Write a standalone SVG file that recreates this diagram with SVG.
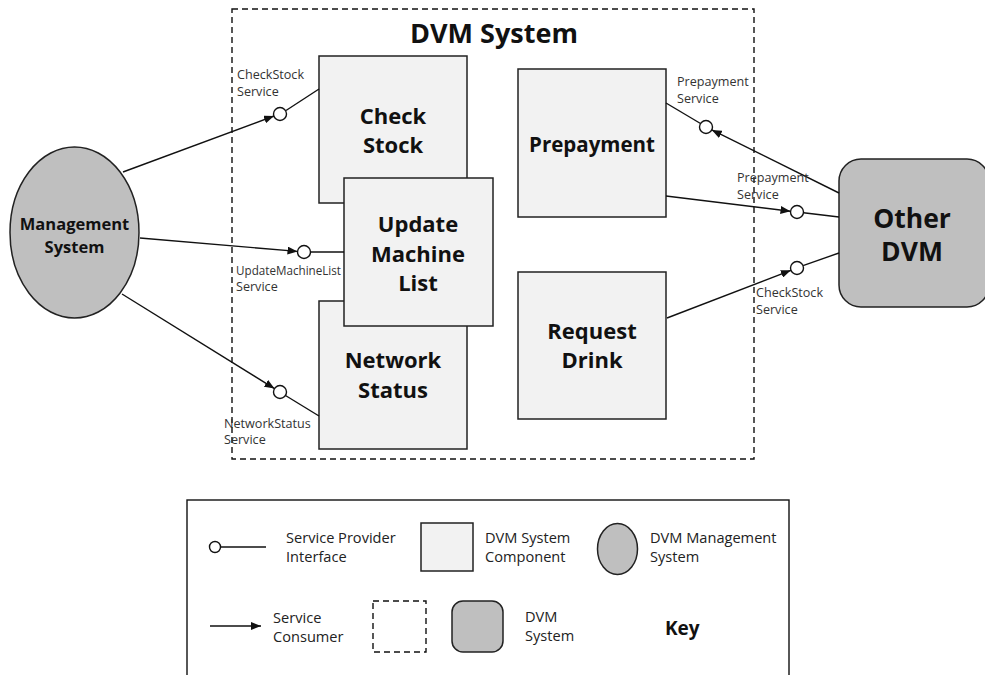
<svg xmlns="http://www.w3.org/2000/svg" width="985" height="675" viewBox="0 0 985 675">
<style>
  text { font-family: "Open Sans", "Noto Sans", "Noto Sans CJK KR", sans-serif; fill: #111; }
  .comp { fill: #f2f2f2; stroke: #222; stroke-width: 1.5; }
  .gray { fill: #bfbfbf; stroke: #222; stroke-width: 1.5; }
  .big { font-size: 22px; font-weight: bold; text-anchor: middle; }
  .lbl { font-size: 12.6px; fill: #333; }
  .key { font-size: 14.6px; fill: #222; }
  .conn { fill: none; stroke: #111; stroke-width: 1.4; }
  .iface { fill: #fff; stroke: #111; stroke-width: 1.4; }
  .dash { fill: none; stroke: #111; stroke-width: 1.4; stroke-dasharray: 6 4; }
</style>
<defs>
  <marker id="arr" markerUnits="userSpaceOnUse" markerWidth="10" markerHeight="8" refX="10" refY="4" orient="auto">
    <path d="M0,0 L10,4 L0,8 z" fill="#111"/>
  </marker>
</defs>
<rect width="985" height="675" fill="#fff"/>

<g id="dvm-system">
  <rect class="dash" x="232" y="9" width="522" height="450"/>
  <text x="494" y="43" style="font-size:27px;font-weight:bold;text-anchor:middle">DVM System</text>
</g>

<g id="check-stock">
  <rect class="comp" x="319" y="56" width="148" height="147"/>
  <text class="big" x="393" y="124">Check</text>
  <text class="big" x="393" y="153">Stock</text>
</g>
<g id="network-status">
  <rect class="comp" x="319" y="301" width="148" height="148"/>
  <text class="big" x="393" y="368">Network</text>
  <text class="big" x="393" y="398">Status</text>
</g>
<g id="update-machine-list">
  <rect class="comp" x="344" y="178" width="149" height="148"/>
  <text class="big" x="418" y="232">Update</text>
  <text class="big" x="418" y="262">Machine</text>
  <text class="big" x="418" y="291">List</text>
</g>
<g id="prepayment">
  <rect class="comp" x="518" y="69" width="148" height="148"/>
  <text class="big" x="592" y="152" style="font-size:20.5px">Prepayment</text>
</g>
<g id="request-drink">
  <rect class="comp" x="518" y="272" width="148" height="147"/>
  <text class="big" x="592" y="339">Request</text>
  <text class="big" x="592" y="368">Drink</text>
</g>

<g id="management-system">
  <ellipse class="gray" cx="74.5" cy="232.5" rx="64.5" ry="85.5"/>
  <text x="74.5" y="230" style="font-size:16.5px;font-weight:bold;text-anchor:middle">Management</text>
  <text x="74.5" y="252.5" style="font-size:16.5px;font-weight:bold;text-anchor:middle">System</text>
</g>

<g id="other-dvm">
  <rect class="gray" x="839" y="159" width="150" height="148" rx="22"/>
  <text x="912" y="228" style="font-size:26.5px;font-weight:bold;text-anchor:middle">Other</text>
  <text x="912" y="261" style="font-size:26.5px;font-weight:bold;text-anchor:middle">DVM</text>
</g>

<g id="connectors">
  <line class="conn" x1="123" y1="172" x2="274" y2="116" marker-end="url(#arr)"/>
  <line class="conn" x1="286" y1="110.5" x2="319" y2="89"/>
  <circle class="iface" cx="280" cy="114" r="6.5"/>

  <line class="conn" x1="140" y1="238" x2="297.5" y2="251.4" marker-end="url(#arr)"/>
  <line class="conn" x1="310.5" y1="252" x2="344" y2="252"/>
  <circle class="iface" cx="304" cy="252" r="6.5"/>

  <line class="conn" x1="122" y1="294" x2="274.5" y2="388.6" marker-end="url(#arr)"/>
  <line class="conn" x1="285.5" y1="395.5" x2="319" y2="416"/>
  <circle class="iface" cx="280" cy="392" r="6.5"/>

  <line class="conn" x1="839" y1="193" x2="711.8" y2="129.9" marker-end="url(#arr)"/>
  <line class="conn" x1="700.5" y1="123.5" x2="666" y2="103"/>
  <circle class="iface" cx="706" cy="127" r="6.5"/>

  <line class="conn" x1="666" y1="196" x2="790.5" y2="211.2" marker-end="url(#arr)"/>
  <line class="conn" x1="803.5" y1="212.7" x2="839" y2="217"/>
  <circle class="iface" cx="797" cy="212" r="6.5"/>

  <line class="conn" x1="667" y1="318" x2="790.9" y2="270.3" marker-end="url(#arr)"/>
  <line class="conn" x1="803" y1="265.6" x2="839" y2="253"/>
  <circle class="iface" cx="797" cy="268" r="6.5"/>

  <text class="lbl" x="237" y="79">CheckStock</text>
  <text class="lbl" x="237" y="96">Service</text>
  <text class="lbl" x="236" y="275" textLength="105" lengthAdjust="spacingAndGlyphs">UpdateMachineList</text>
  <text class="lbl" x="236" y="291">Service</text>
  <text class="lbl" x="224" y="428">NetworkStatus</text>
  <text class="lbl" x="224" y="444">Service</text>
  <text class="lbl" x="677" y="86">Prepayment</text>
  <text class="lbl" x="677" y="103">Service</text>
  <text class="lbl" x="737" y="182">Prepayment</text>
  <text class="lbl" x="737" y="199">Service</text>
  <text class="lbl" x="756" y="297">CheckStock</text>
  <text class="lbl" x="756" y="314">Service</text>
</g>

<g id="key">
  <rect x="187" y="500" width="602" height="190" fill="none" stroke="#111" stroke-width="1.4"/>
  <line class="conn" x1="221" y1="547" x2="266" y2="547"/>
  <circle class="iface" cx="215" cy="547" r="5.5"/>
  <text class="key" x="286" y="543">Service Provider</text>
  <text class="key" x="286" y="562">Interface</text>

  <rect class="comp" x="421" y="523" width="52" height="48"/>
  <text class="key" x="485" y="543">DVM System</text>
  <text class="key" x="485" y="562">Component</text>

  <ellipse class="gray" cx="617.5" cy="549" rx="20" ry="25.5"/>
  <text class="key" x="650" y="543">DVM Management</text>
  <text class="key" x="650" y="562">System</text>

  <line class="conn" x1="210" y1="626" x2="261" y2="626" marker-end="url(#arr)"/>
  <text class="key" x="273" y="623">Service</text>
  <text class="key" x="273" y="642">Consumer</text>

  <rect class="dash" x="373" y="601" width="53" height="51"/>
  <rect class="gray" x="452" y="601" width="51" height="51" rx="11"/>
  <text class="key" x="525" y="622">DVM</text>
  <text class="key" x="525" y="641">System</text>
  <text x="665" y="635" style="font-size:19px;font-weight:bold">Key</text>
</g>
</svg>
